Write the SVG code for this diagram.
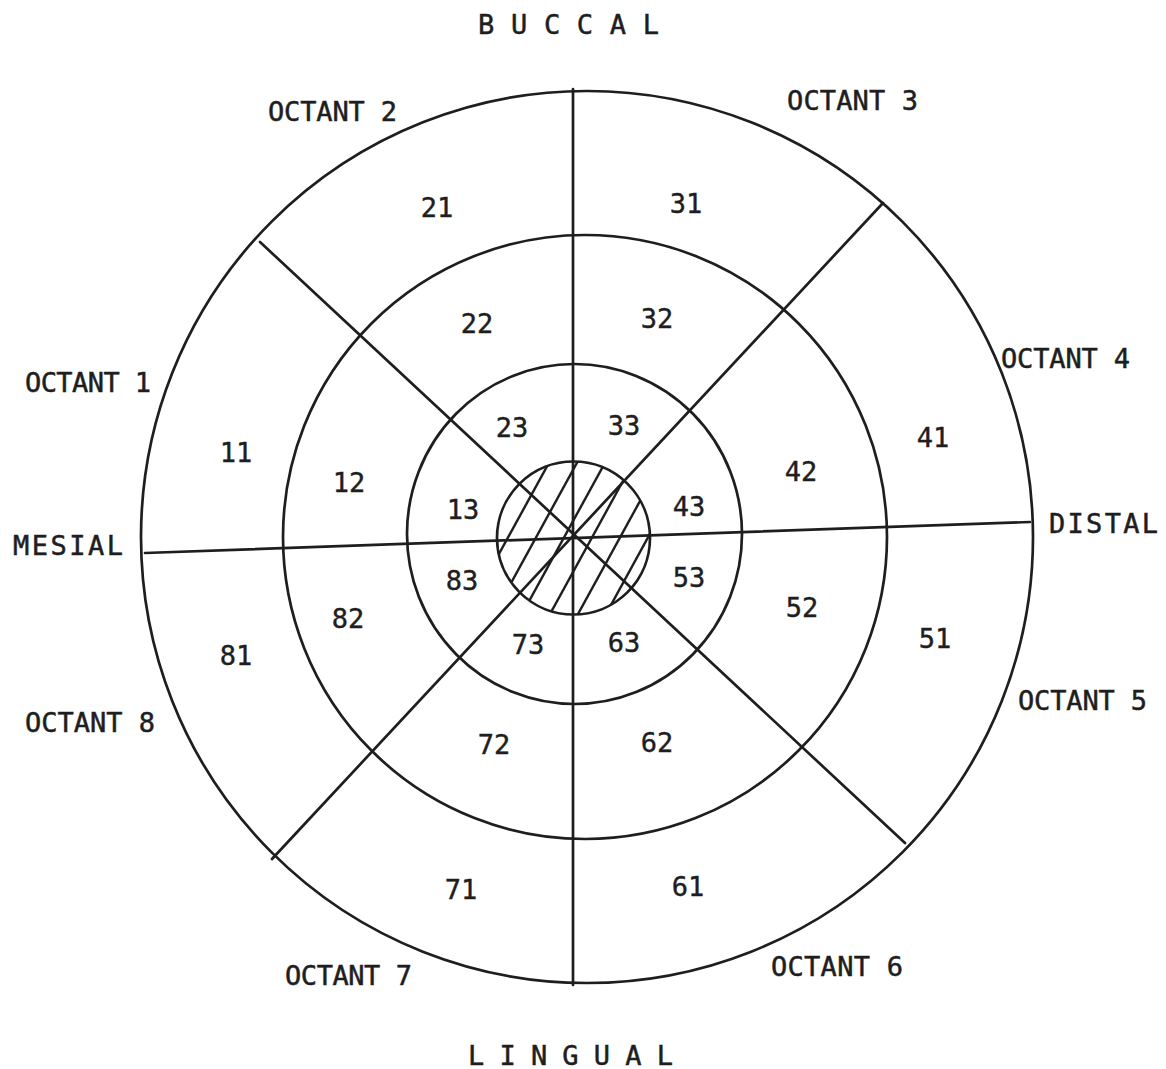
<svg xmlns="http://www.w3.org/2000/svg" width="1166" height="1069" viewBox="0 0 1166 1069">
<style>
.ln{fill:none;stroke:#1e1e1e;stroke-width:2.7;stroke-linecap:round}
.h{fill:none;stroke:#1e1e1e;stroke-width:2.4}
.t{font-family:"DejaVu Sans Mono","Liberation Mono",monospace;font-size:27px;fill:#1e1e1e;stroke:#1e1e1e;stroke-width:0.5}
.n{font-family:"DejaVu Sans Mono","Liberation Mono",monospace;font-size:27px;fill:#1e1e1e;stroke:#1e1e1e;stroke-width:0.4;text-anchor:middle}
</style>
<defs>
<clipPath id="hc"><circle cx="573.5" cy="538" r="76.5"/></clipPath>
</defs>
<rect width="1166" height="1069" fill="#fff"/>
<g id="rings">
<circle class="ln" cx="587" cy="537" r="446"/>
<circle class="ln" cx="585" cy="537" r="302"/>
<ellipse class="ln" cx="574.5" cy="534" rx="167.5" ry="170"/>
<circle class="ln" cx="573.5" cy="538" r="76.5"/>
</g>
<g id="connectors">
<line class="ln" x1="573" y1="89" x2="573" y2="985"/>
<line class="ln" x1="145" y1="553" x2="1030" y2="522"/>
<line class="ln" x1="260" y1="242" x2="905" y2="843"/>
<line class="ln" x1="883" y1="203" x2="272" y2="859"/>
</g>
<g id="hatch" clip-path="url(#hc)">
<line class="h" x1="528" y1="450" x2="432" y2="625"/>
<line class="h" x1="556" y1="450" x2="460" y2="625"/>
<line class="h" x1="584" y1="450" x2="488" y2="625"/>
<line class="h" x1="612" y1="450" x2="516" y2="625"/>
<line class="h" x1="640" y1="450" x2="544" y2="625"/>
<line class="h" x1="668" y1="450" x2="572" y2="625"/>
<line class="h" x1="696" y1="450" x2="600" y2="625"/>
<line class="h" x1="724" y1="450" x2="628" y2="625"/>
</g>
<g id="labels">
<text class="t" x="478" y="34" textLength="181" lengthAdjust="spacing">B U C C A L</text>
<text class="t" x="468" y="1065" textLength="205" lengthAdjust="spacing">L I N G U A L</text>
<text class="t" x="13" y="555" textLength="110" lengthAdjust="spacing">MESIAL</text>
<text class="t" x="1049" y="533" textLength="109" lengthAdjust="spacing">DISTAL</text>
<text class="t" x="25" y="392" textLength="126" lengthAdjust="spacing">OCTANT 1</text>
<text class="t" x="268" y="121" textLength="129" lengthAdjust="spacing">OCTANT 2</text>
<text class="t" x="787" y="110" textLength="131" lengthAdjust="spacing">OCTANT 3</text>
<text class="t" x="1001" y="368" textLength="129" lengthAdjust="spacing">OCTANT 4</text>
<text class="t" x="1018" y="710" textLength="129" lengthAdjust="spacing">OCTANT 5</text>
<text class="t" x="771" y="976" textLength="132" lengthAdjust="spacing">OCTANT 6</text>
<text class="t" x="285" y="985" textLength="127" lengthAdjust="spacing">OCTANT 7</text>
<text class="t" x="25" y="732" textLength="130" lengthAdjust="spacing">OCTANT 8</text>
</g>
<g id="numbers">
<text class="n" x="437" y="217">21</text>
<text class="n" x="686" y="213">31</text>
<text class="n" x="477" y="333">22</text>
<text class="n" x="657" y="328">32</text>
<text class="n" x="512" y="437">23</text>
<text class="n" x="624" y="435">33</text>
<text class="n" x="236" y="462">11</text>
<text class="n" x="349" y="492">12</text>
<text class="n" x="463" y="519">13</text>
<text class="n" x="689" y="516">43</text>
<text class="n" x="801" y="481">42</text>
<text class="n" x="933" y="447">41</text>
<text class="n" x="462" y="590">83</text>
<text class="n" x="689" y="587">53</text>
<text class="n" x="348" y="628">82</text>
<text class="n" x="802" y="617">52</text>
<text class="n" x="236" y="665">81</text>
<text class="n" x="935" y="648">51</text>
<text class="n" x="528" y="654">73</text>
<text class="n" x="624" y="652">63</text>
<text class="n" x="494" y="754">72</text>
<text class="n" x="657" y="752">62</text>
<text class="n" x="461" y="899">71</text>
<text class="n" x="688" y="896">61</text>
</g>
</svg>
